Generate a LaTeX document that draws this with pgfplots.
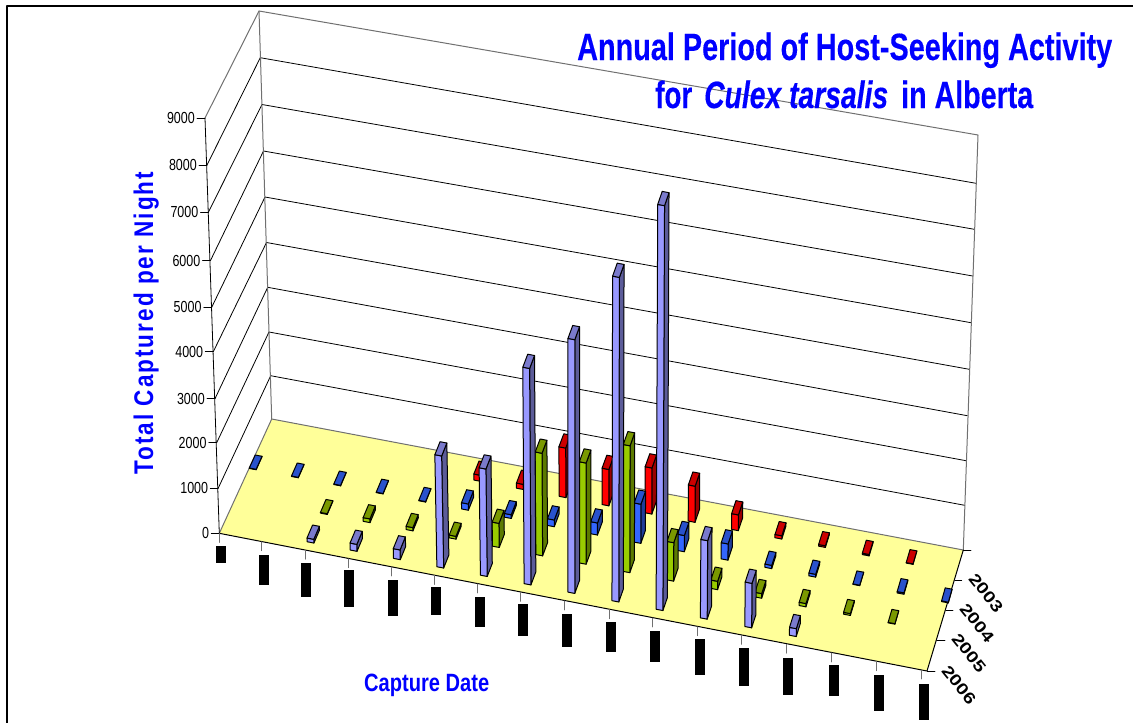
\documentclass[border=0pt]{standalone}
\usepackage{fontspec}
\usepackage{graphicx}
\usepackage{pgfplots}
\pgfplotsset{compat=1.18}
\setmainfont{Liberation Sans}
\newfontfamily\heavy[BoldFont={Liberation Sans Bold},FakeBold=0.3]{Liberation Sans Bold}
\newfontfamily\heavyit[FakeBold=0.3]{Liberation Sans Bold Italic}
\newfontfamily\spaced[LetterSpace=9]{Liberation Sans Bold}
\definecolor{Rf}{HTML}{FF0000}\definecolor{Rs}{HTML}{990000}\definecolor{Rt}{HTML}{CC0000}
\definecolor{Bf}{HTML}{3366FF}\definecolor{Bs}{HTML}{1F3D99}\definecolor{Bt}{HTML}{2952CC}
\definecolor{Gf}{HTML}{99CC00}\definecolor{Gs}{HTML}{5C7A00}\definecolor{Gt}{HTML}{7A9900}
\definecolor{Pf}{HTML}{9999FF}\definecolor{Ps}{HTML}{5C5C99}\definecolor{Pt}{HTML}{7A7ACC}
\definecolor{Floor}{HTML}{FFFF99}
\definecolor{Wall}{HTML}{707070}
% one bar: column (date), row (year), value, colour prefix
\newcommand{\qbar}[4]{%
  \pgfmathsetmacro\ddx{-14+0.33*#1}%
  \pgfmathsetmacro\ddy{28.4+0.1*#1}%
  \pgfmathsetmacro\cx{255.7+42*#1+0.0745*#1*#1+(#2-1)*\ddx}%
  \pgfmathsetmacro\cy{462+8*#1+0.02*#1*#1+(#2-1)*\ddy+0.6}%
  \pgfmathsetmacro\Dx{-0.42*\ddx}%
  \pgfmathsetmacro\Dy{13}%
  \pgfmathsetmacro\h{0.0463*#3}%
  \pgfmathsetmacro\tx{\h*(#1-8)*(#1<8?0.006:0.002)}%
  \pgfmathsetmacro\ax{\cx-3.4-\Dx/2}\pgfmathsetmacro\ay{\cy-0.65+\Dy/2}%
  \pgfmathsetmacro\bx{\ax+6.8}\pgfmathsetmacro\by{\ay+1.3}%
  \pgfmathsetmacro\ccx{\bx+\Dx}\pgfmathsetmacro\ccy{\by-\Dy}%
  \pgfmathsetmacro\ex{\ax+\Dx}\pgfmathsetmacro\ey{\ay-\Dy}%
  \pgfmathsetmacro\atx{\ax+\tx}\pgfmathsetmacro\aty{\ay-\h}%
  \pgfmathsetmacro\btx{\bx+\tx}\pgfmathsetmacro\bty{\by-\h}%
  \pgfmathsetmacro\ctx{\ccx+\tx}\pgfmathsetmacro\cty{\ccy-\h}%
  \pgfmathsetmacro\etx{\ex+\tx}\pgfmathsetmacro\ety{\ey-\h}%
  \addplot[fill=#4s,draw=black,line width=1pt] coordinates {(\bx,\by)(\ccx,\ccy)(\ctx,\cty)(\btx,\bty)} --cycle;
  \addplot[fill=#4f,draw=black,line width=1pt] coordinates {(\ax,\ay)(\bx,\by)(\btx,\bty)(\atx,\aty)} --cycle;
  \addplot[fill=#4t,draw=black,line width=1pt] coordinates {(\atx,\aty)(\btx,\bty)(\ctx,\cty)(\etx,\ety)} --cycle;
}
\newcommand{\rbar}[2]{\qbar{#1}{0}{#2}{R}}
\newcommand{\bbar}[2]{\qbar{#1}{1}{#2}{B}}
\newcommand{\gbar}[2]{\qbar{#1}{2}{#2}{G}}
\newcommand{\pbar}[2]{\qbar{#1}{3}{#2}{P}}
\newcommand{\blk}[3]{\addplot[fill=black,draw=none] coordinates {(#1,#2)(#1+10,#2)(#1+10,#3)(#1,#3)} --cycle;}
\newcommand{\gridl}[6]{\addplot[black,line width=0.8pt] coordinates {(#1,#2)(#3,#4)(#5,#6)};}
\newcommand{\ytick}[3]{%
  \addplot[black,line width=0.8pt] coordinates {(#1-8,#2)(#1,#2)};
  \node[anchor=east,inner sep=0pt,text=black] at (axis cs:#1-10,#2) {\scalebox{0.78}[1]{\fontsize{16}{16}\selectfont #3}};
}
\newcommand{\dtick}[2]{\addplot[Wall,line width=0.8pt] coordinates {(#1,#2)(#1,#2+9)};}
\newcommand{\fitted}[3]{\resizebox{#1pt}{\height}{\fontsize{#2}{#2}\selectfont #3}}
\begin{document}
\begin{tikzpicture}
\begin{axis}[
  at={(0,0)},anchor=south west,
  scale only axis,width=1133pt,height=723pt,
  xmin=0,xmax=1133,ymin=0,ymax=723,y dir=reverse,
  hide axis,clip=false,no markers,
  every axis plot/.append style={line join=round,line cap=round},
]
% frame
\addplot[black,line width=1.5pt] coordinates {(7,723)(7,6)(1133,6)};
% walls: left end, back corner, right end of each gridline
\gridl{207}{165}{260.3}{57.7}{976}{183.3}
\gridl{208.5}{212}{262}{104.5}{974.3}{229.3}
\gridl{210.5}{260.5}{263.5}{151}{972.7}{276}
\gridl{211.7}{307.3}{265}{197}{971}{322.7}
\gridl{213.3}{351.7}{266.5}{242.5}{969.3}{369.3}
\gridl{215}{398.7}{267.7}{287.3}{967.3}{415.7}
\gridl{216.7}{442.7}{269}{332}{966}{460.7}
\gridl{218.3}{488}{270.7}{375.7}{964.7}{505.3}
\addplot[Wall,line width=1pt] coordinates {(205,118)(259,11)(978,135)(963.3,550)};
\addplot[Wall,line width=1pt] coordinates {(259,11)(271.7,419)};
% floor
\addplot[fill=Floor,draw=none] coordinates {(219.3,533.3)(271.7,419)(963.3,550)(927,671)} --cycle;
\addplot[Wall,line width=1pt] coordinates {(219.3,533.3)(271.7,419)(963.3,550)};
\addplot[black,line width=1pt] coordinates {(963.3,550)(927,671)(219.3,533.3)};
\addplot[black,line width=0.8pt] coordinates {(205,118)(219.3,533.3)};
% value axis
\ytick{205}{118}{9000}
\ytick{207}{165}{8000}
\ytick{208.5}{212}{7000}
\ytick{210.5}{260.5}{6000}
\ytick{211.7}{307.3}{5000}
\ytick{213.3}{351.7}{4000}
\ytick{215}{398.7}{3000}
\ytick{216.7}{442.7}{2000}
\ytick{218.3}{488}{1000}
\ytick{219.3}{533.3}{0}
% date ticks
\dtick{219.3}{533.5}\dtick{261.3}{541.7}\dtick{305}{550.2}\dtick{348}{558.7}
\dtick{391}{567}\dtick{434.3}{575.4}\dtick{477.7}{583.9}\dtick{520.7}{592.3}
\dtick{564.7}{600.9}\dtick{609.3}{609.6}\dtick{652.7}{618}\dtick{697}{626.7}
\dtick{741.3}{635.3}\dtick{786.7}{644.2}\dtick{831.3}{652.9}\dtick{876}{661.6}\dtick{921.3}{670}
% depth ticks
\addplot[black,line width=0.8pt] coordinates {(963.3,550.5)(971,550.5)};
\addplot[black,line width=0.8pt] coordinates {(955,580)(961.7,580)};
\addplot[black,line width=0.8pt] coordinates {(946,610.7)(953,610.7)};
\addplot[black,line width=0.8pt] coordinates {(936.7,640)(945,640)};
\addplot[black,line width=0.8pt] coordinates {(927.3,671)(935,671)};
% date labels, blacked out in the source
\blk{216}{546}{563}\blk{259}{555}{585}\blk{301}{563}{597}\blk{344}{570.3}{607}
\blk{388}{580}{616}\blk{431}{587}{615}\blk{475}{597}{627}\blk{518}{604}{636}
\blk{562}{614}{646.7}\blk{606}{622}{652}\blk{650}{631}{662}\blk{695}{639}{675}
\blk{739}{648}{686}\blk{783}{658}{695}\blk{829}{665}{696}\blk{874}{675}{711}\blk{919}{684}{720}
% 2003
\rbar{5}{130}\rbar{6}{110}\rbar{7}{1070}\rbar{8}{785}\rbar{9}{995}\rbar{10}{780}
\rbar{11}{340}\rbar{12}{70}\rbar{13}{35}\rbar{14}{30}\rbar{15}{10}
% 2004
\bbar{0}{10}\bbar{1}{10}\bbar{2}{10}\bbar{3}{10}\bbar{4}{10}\bbar{5}{135}\bbar{6}{80}
\bbar{7}{145}\bbar{8}{260}\bbar{9}{845}\bbar{10}{350}\bbar{11}{350}\bbar{12}{70}
\bbar{13}{60}\bbar{14}{10}\bbar{15}{30}\bbar{16}{15}
% 2005
\gbar{2}{15}\gbar{3}{80}\gbar{4}{70}\gbar{5}{60}\gbar{6}{520}\gbar{7}{2215}\gbar{8}{2185}
\gbar{9}{2740}\gbar{10}{830}\gbar{11}{180}\gbar{12}{100}\gbar{13}{70}\gbar{14}{40}\gbar{15}{10}
% 2006
\pbar{2}{80}\pbar{3}{150}\pbar{4}{210}\pbar{5}{2420}\pbar{6}{2320}\pbar{7}{4675}\pbar{8}{5480}
\pbar{9}{7010}\pbar{10}{8745}\pbar{11}{1695}\pbar{12}{960}\pbar{13}{170}
% year labels
\node[rotate=-51,inner sep=0pt] at (axis cs:986,593) {\fitted{44}{16}{\bfseries 2003}};
\node[rotate=-51,inner sep=0pt] at (axis cs:977,623) {\fitted{44}{16}{\bfseries 2004}};
\node[rotate=-51,inner sep=0pt] at (axis cs:969,653) {\fitted{44}{16}{\bfseries 2005}};
\node[rotate=-51,inner sep=0pt] at (axis cs:959,685) {\fitted{44}{16}{\bfseries 2006}};
% titles
\node[anchor=base west,inner sep=0pt,text=blue] at (axis cs:577,60) {\fitted{535}{38}{\heavy Annual Period of Host-Seeking Activity}};
\node[anchor=base west,inner sep=0pt,text=blue] at (axis cs:655,108) {\fitted{37}{38}{\heavy for}};
\node[anchor=base west,inner sep=0pt,text=blue] at (axis cs:704,108) {\fitted{184}{38}{\heavyit Culex tarsalis}};
\node[anchor=base west,inner sep=0pt,text=blue] at (axis cs:901,108) {\fitted{132}{38}{\heavy in Alberta}};
\node[anchor=base west,inner sep=0pt,text=blue,rotate=90] at (axis cs:153,475) {\fitted{303}{27}{\spaced Total Captured per Night}};
\node[anchor=base west,inner sep=0pt,text=blue] at (axis cs:364,691.7) {\fitted{125}{25}{\bfseries Capture Date}};
\end{axis}
\pgfresetboundingbox
\path (0,0) rectangle (1133pt,723pt);
\end{tikzpicture}
\end{document}
